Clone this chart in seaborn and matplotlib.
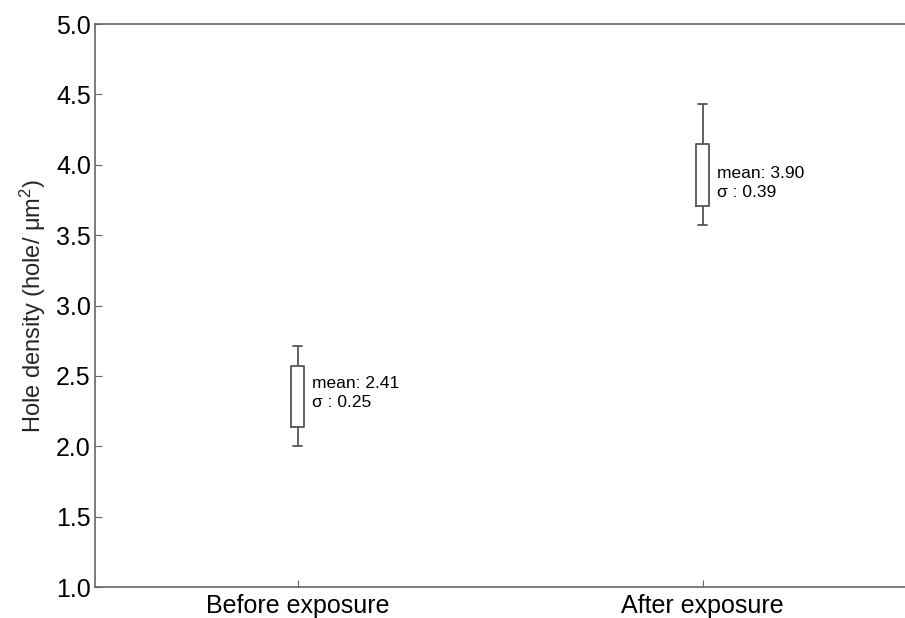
import pandas as pd
import matplotlib
matplotlib.use('Agg')
import matplotlib.pyplot as plt
import seaborn as sns

# values
groups = ['Before exposure', 'After exposure']
whis_low = [2.00, 3.57]
q1 = [2.14, 3.71]
q3 = [2.57, 4.15]
whis_high = [2.71, 4.43]
means = [2.41, 3.90]
sigmas = [0.25, 0.39]

# five-point samples so that quartiles/whiskers land on the read values
rows = []
for i, g in enumerate(groups):
    for v in [whis_low[i], q1[i], means[i], q3[i], whis_high[i]]:
        rows.append({'group': g, 'density': v})
df = pd.DataFrame(rows)

sns.set_style('white')
plt.rcParams['font.family'] = ['Liberation Sans', 'DejaVu Sans']
plt.rcParams['mathtext.fontset'] = 'custom'
plt.rcParams['mathtext.rm'] = 'Liberation Sans'
plt.rcParams['mathtext.it'] = 'Liberation Sans'

line_c = '#555555'
fig = plt.figure(figsize=(9.05, 6.18), dpi=100)
ax = fig.add_axes([0.105, 0.050, 0.895, 0.911])

sns.boxplot(data=df, x='group', y='density', order=groups, whis=(0, 100),
            width=0.03, fill=False, color=line_c, linewidth=1.3,
            capwidths=0.02,
            medianprops={'linewidth': 0}, ax=ax)

for i in range(len(groups)):
    ax.text(i + 0.035, means[i] - 0.03, 'mean: %.2f\n\u03c3 : %.2f' % (means[i], sigmas[i]),
            fontsize=12.5, va='center', ha='left', color='black', linespacing=1.3)

ax.set_xlim(-0.5, 1.5)
ax.set_ylim(1.0, 5.0)
ax.set_yticks([1.0, 1.5, 2.0, 2.5, 3.0, 3.5, 4.0, 4.5, 5.0])
ax.set_yticklabels(['%.1f' % t for t in ax.get_yticks()])
ax.set_xlabel('')
ax.set_ylabel('Hole density (hole/ \u03bcm$^{2}$)', fontsize=17, labelpad=6)

for side in ['left', 'bottom', 'top']:
    ax.spines[side].set_color('#666666')
    ax.spines[side].set_linewidth(1.2)
ax.spines['right'].set_visible(False)
ax.tick_params(axis='both', direction='in', length=5, color='#666666',
               labelsize=18, labelcolor='black', left=True, bottom=True)
ax.tick_params(axis='y', pad=3)
ax.tick_params(axis='x', pad=5)

fig.savefig('out.png', dpi=100)
